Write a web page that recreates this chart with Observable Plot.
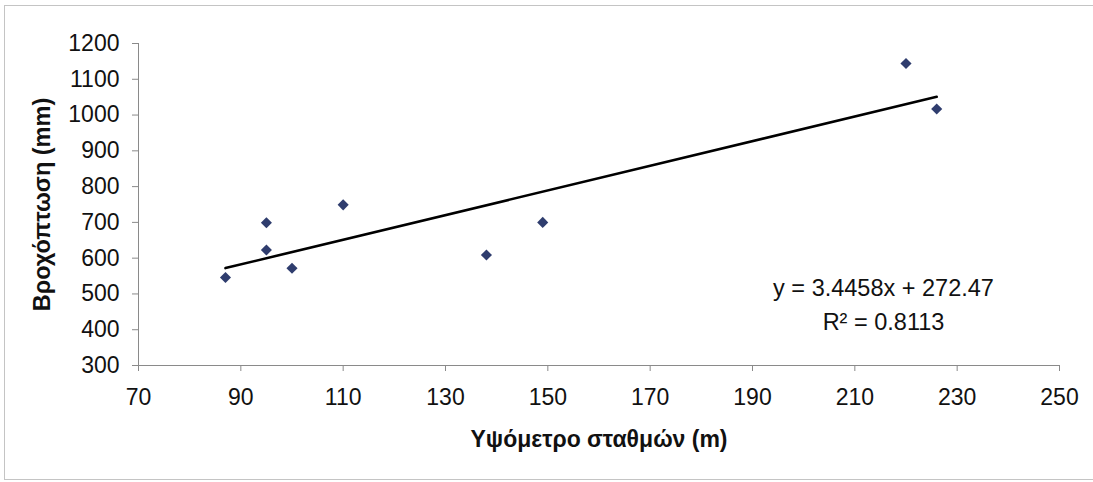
<!DOCTYPE html>
<html>
<head>
<meta charset="utf-8">
<script src="https://cdn.jsdelivr.net/npm/d3@7"></script>
<script src="https://cdn.jsdelivr.net/npm/@observablehq/plot@0.6"></script>
<style>
  html, body { margin: 0; padding: 0; background: #fff; }
  #wrap { position: relative; width: 1093px; height: 482px; overflow: hidden; }
  #border { position: absolute; left: 4px; top: 5px; width: 1100px; height: 475px; border: 1px solid #c4c4c4; pointer-events: none; box-sizing: border-box; }
</style>
</head>
<body>
<div id="wrap"><div id="border"></div></div>
<script>
// Data
const altitude = [87, 95, 95, 100, 110, 138, 149, 220, 226];          // Υψόμετρο σταθμών (m)
const rainfall = [546, 699, 623, 572, 749, 609, 700, 1144, 1017];     // Βροχόπτωση (mm)
const xTicks = [70, 90, 110, 130, 150, 170, 190, 210, 230, 250];
const yTicks = [300, 400, 500, 600, 700, 800, 900, 1000, 1100, 1200];
const trendSlope = 3.4458;
const trendIntercept = 272.47;
const equationText = "y = 3.4458x + 272.47";
const r2Text = "R² = 0.8113";
const xTitle = "Υψόμετρο σταθμών (m)";
const yTitle = "Βροχόπτωση (mm)";

const points = altitude.map((x, i) => ({x, y: rainfall[i]}));
const xExtent = d3.extent(altitude);
const trend = xExtent.map(x => ({x, y: trendSlope * x + trendIntercept}));

const font = "'Liberation Sans', Arial, Helvetica, sans-serif";
const fmt = d => String(d);

const chart = Plot.plot({
  width: 1093,
  height: 482,
  marginLeft: 138,
  marginRight: 34,
  marginTop: 43,
  marginBottom: 117,
  style: {fontFamily: font, fontSize: "23px", color: "#111", background: "transparent"},
  x: {domain: [70, 250]},
  y: {domain: [300, 1200]},
  marks: [
    Plot.axisX({ticks: xTicks, tickFormat: fmt, tickSize: 6, tickPadding: 17, stroke: "#8a8a8a", fill: "#111", fontSize: 23, label: null}),
    Plot.axisY({ticks: yTicks, tickFormat: fmt, tickSize: 6, tickPadding: 13, stroke: "#8a8a8a", fill: "#111", fontSize: 23, label: null}),
    Plot.ruleX([70], {stroke: "#8a8a8a", strokeWidth: 1}),
    Plot.ruleY([300], {stroke: "#8a8a8a", strokeWidth: 1}),
    Plot.line(trend, {x: "x", y: "y", stroke: "#000", strokeWidth: 2.6}),
    Plot.dot(points, {x: "x", y: "y", symbol: "diamond2", r: 5, fill: "#2f3d6e", stroke: "none"}),
    Plot.text([equationText], {frameAnchor: "top-right", dx: -176, dy: 245, textAnchor: "middle", lineAnchor: "middle", fontSize: 23.5, fill: "#111"}),
    Plot.text([r2Text], {frameAnchor: "top-right", dx: -176, dy: 279, textAnchor: "middle", lineAnchor: "middle", fontSize: 23.5, fill: "#111"}),
    Plot.text([xTitle], {frameAnchor: "bottom", dy: 74, lineAnchor: "middle", fontSize: 23, fontWeight: "bold", fill: "#111"}),
    Plot.text([yTitle], {frameAnchor: "left", dx: -96, rotate: -90, textAnchor: "middle", lineAnchor: "middle", fontSize: 23.5, fontWeight: "bold", fill: "#111"})
  ]
});
document.getElementById("wrap").prepend(chart);
</script>
</body>
</html>
